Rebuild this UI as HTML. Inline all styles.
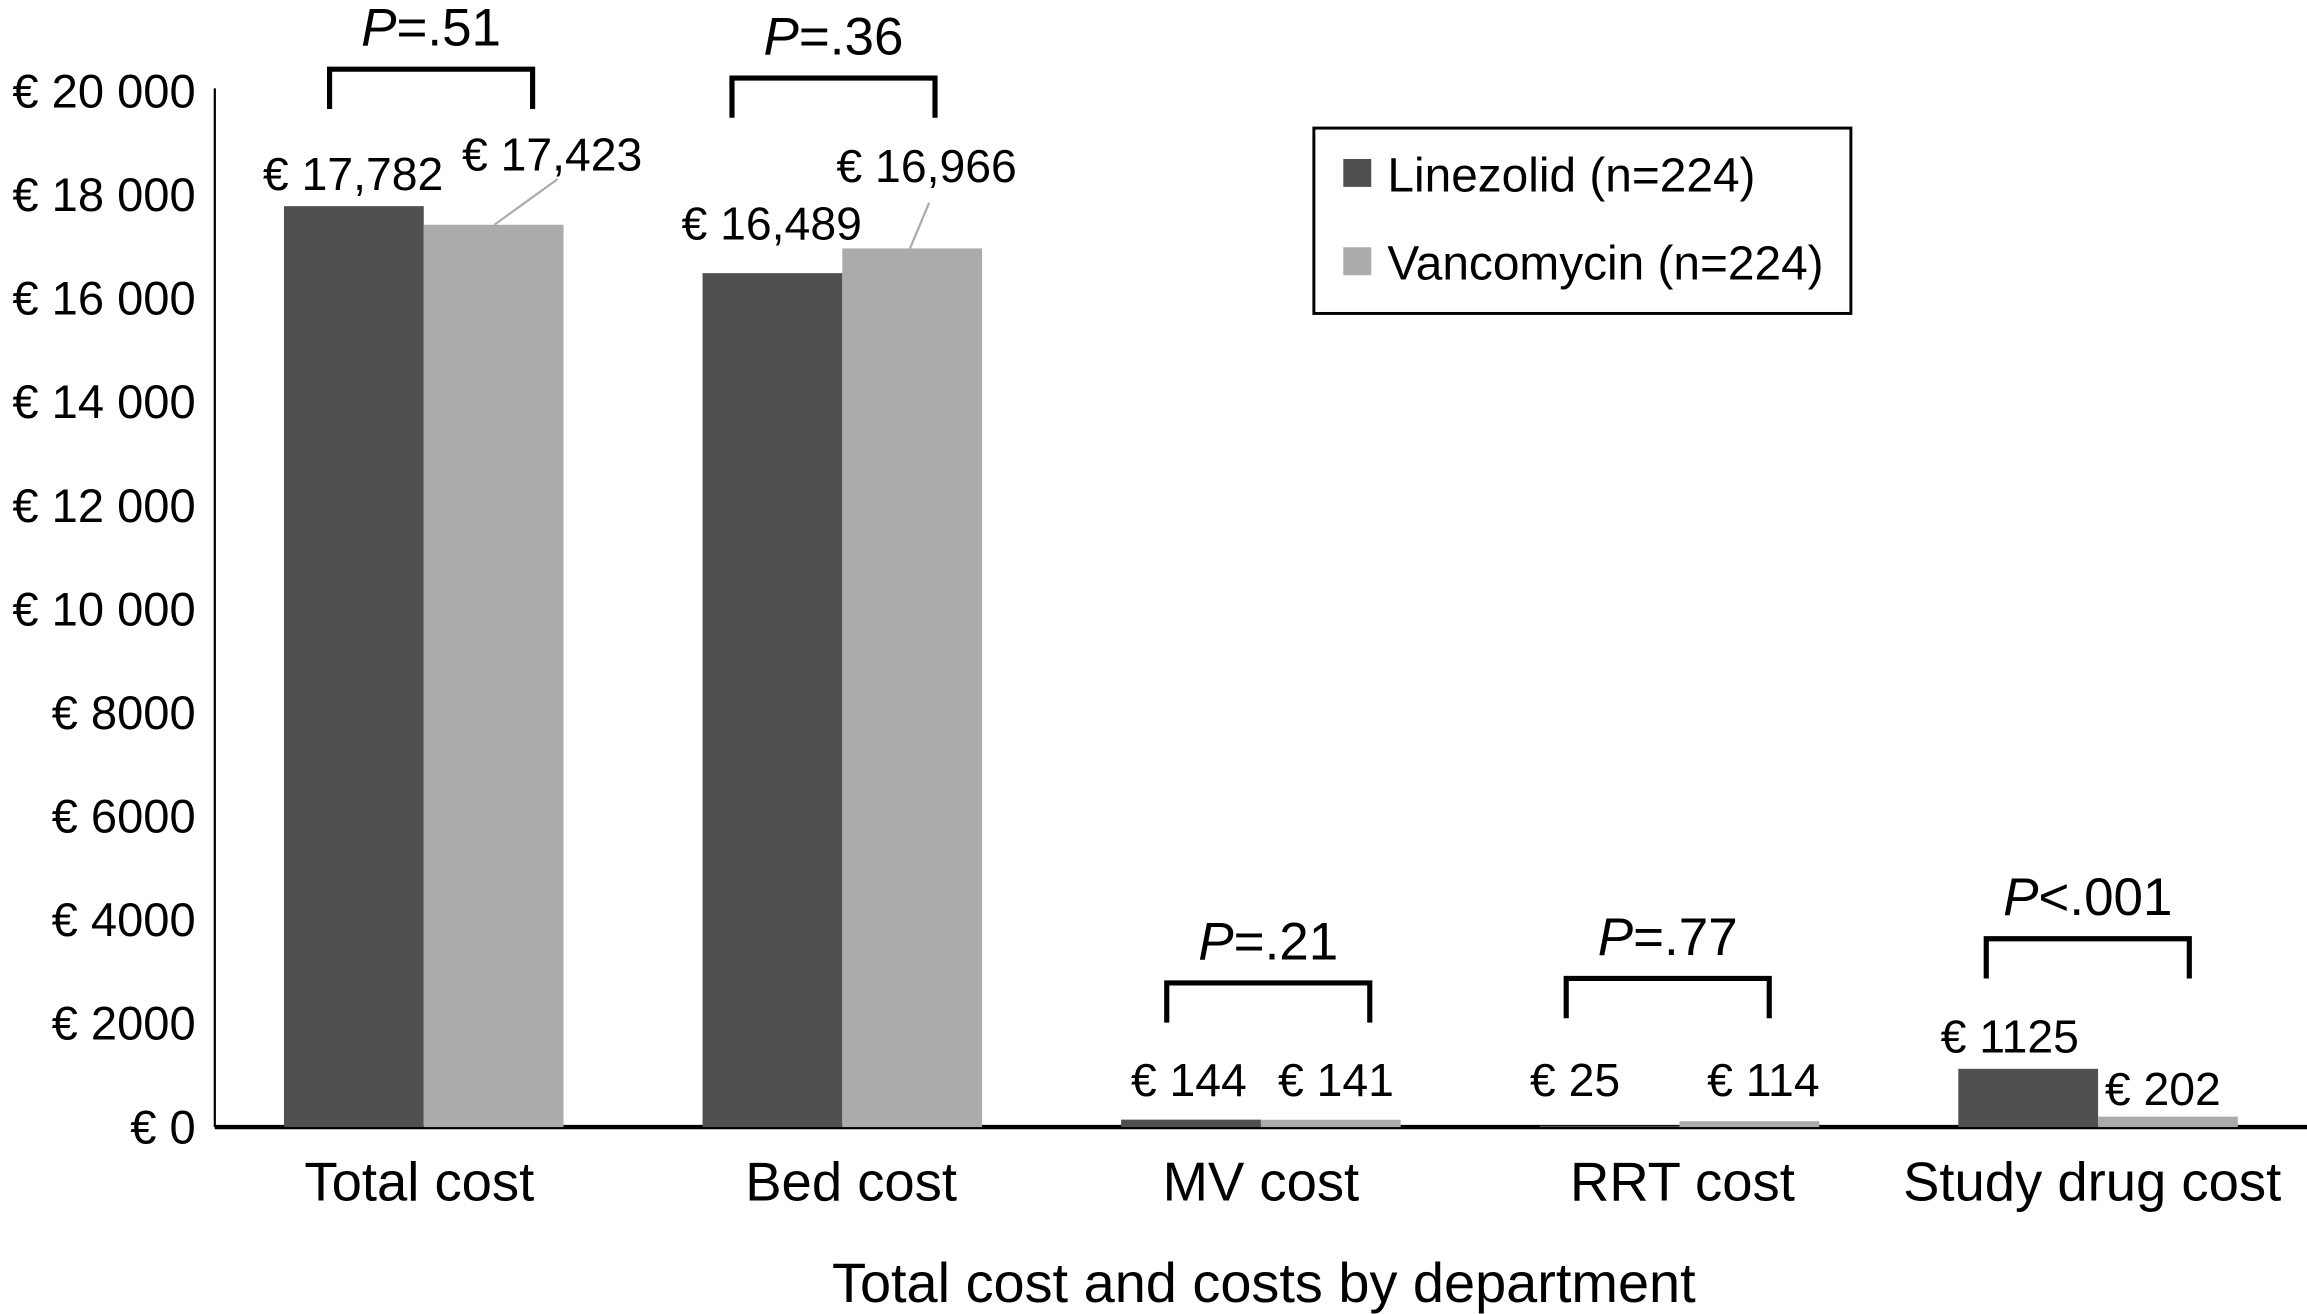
<!DOCTYPE html>
<html><head><meta charset="utf-8">
<style>
html,body{margin:0;padding:0;background:#fff;}
svg{display:block;}
text{font-family:"Liberation Sans",Arial,sans-serif;fill:#000;}
</style></head>
<body>
<svg id="chart" width="2307" height="1314" viewBox="0 0 1568 893" xmlns="http://www.w3.org/2000/svg">
<g id="axes"></g>
<g id="bars"></g>
<g id="labels"></g>
<g id="brackets"></g>
<g id="legend">
  <rect x="893" y="87" width="365" height="126" fill="#fff" stroke="#000" stroke-width="2"/>
  <rect x="913" y="108" width="19" height="19" fill="#505050"/>
  <text x="943" y="130" font-size="32.5">Linezolid (n=224)</text>
  <rect x="913" y="168" width="19" height="19" fill="#ababab"/>
  <text x="943" y="190" font-size="32.5">Vancomycin (n=224)</text>
</g>
</svg>
<script>
const categories = ["Total cost","Bed cost","MV cost","RRT cost","Study drug cost"];
const linezolid = [17782,16489,144,25,1125];
const vancomycin = [17423,16966,141,114,202];
const linezolidLabels = ["€ 17,782","€ 16,489","€ 144","€ 25","€ 1125"];
const vancomycinLabels = ["€ 17,423","€ 16,966","€ 141","€ 114","€ 202"];
const pValues = [".51",".36",".21",".77",".001"];
const pOps = ["=","=","=","=","<"];
const ticks = [0,2000,4000,6000,8000,10000,12000,14000,16000,18000,20000];
const tickLabels = ["€ 0","€ 2000","€ 4000","€ 6000","€ 8000","€ 10 000","€ 12 000","€ 14 000","€ 16 000","€ 18 000","€ 20 000"];

const NS="http://www.w3.org/2000/svg";
const y0=766, pxPer=0.0352;
function y(v){return y0 - v*pxPer;}
function gx(i){return 288 + i*284.5;}
const bw=95;
function mk(tag,attrs,parent,txt){const e=document.createElementNS(NS,tag);for(const k in attrs)e.setAttribute(k,attrs[k]);if(txt!==undefined)e.textContent=txt;parent.appendChild(e);return e;}

const axes=document.getElementById('axes');
let e=mk('line',{x1:146,y1:60,x2:146,y2:y0,stroke:'#000','stroke-width':1.5},axes);


ticks.forEach((t,i)=>{
  const tx=mk('text',{x:133,y:y(t)+11,'font-size':32,'text-anchor':'end'},axes,tickLabels[i]);
  
  
});

const bars=document.getElementById('bars');
const labels=document.getElementById('labels');
const catShift=[-3,6,0,2,-4];
categories.forEach((c,i)=>{
  const cx=gx(i);
  const b1=mk('rect',{x:cx-bw,y:y(linezolid[i]),width:bw,height:y0-y(linezolid[i]),fill:'#505050'},bars);
  
  
  const b2=mk('rect',{x:cx,y:y(vancomycin[i]),width:bw,height:y0-y(vancomycin[i]),fill:'#ababab'},bars);
  
  
  const cl=mk('text',{x:cx+catShift[i],y:816,'font-size':37,'text-anchor':'middle'},labels,c);
  
  
});
e=mk('line',{x1:146,y1:y0,x2:1568,y2:y0,stroke:'#000','stroke-width':3},axes);


e=mk('text',{x:859,y:885,'font-size':38,'text-anchor':'middle'},labels,'Total cost and costs by department');



function vl(x,yy,t,anchor){const el=mk('text',{x:x,y:yy,'font-size':31.5,'text-anchor':anchor||'middle'},labels,t);
  
  return el;}
// Total
vl(gx(0)-48,y(linezolid[0])-11,linezolidLabels[0]);
vl(gx(0)+26,y(vancomycin[0])-37,vancomycinLabels[0],'start');
mk('line',{x1:gx(0)+91,y1:y(vancomycin[0])-31,x2:gx(0)+48,y2:y(vancomycin[0]),stroke:'#ababab','stroke-width':1.5},labels);
// Bed
vl(gx(1)-48,y(linezolid[1])-23,linezolidLabels[1]);
vl(gx(1)-4,y(vancomycin[1])-45,vancomycinLabels[1],'start');
mk('line',{x1:gx(1)+59,y1:y(vancomycin[1])-31,x2:gx(1)+46,y2:y(vancomycin[1]),stroke:'#ababab','stroke-width':1.5},labels);
// MV
vl(gx(2)-49,745,linezolidLabels[2]);
vl(gx(2)+51,745,vancomycinLabels[2]);
// RRT
vl(gx(3)-71,745,linezolidLabels[3]);
vl(gx(3)+57,745,vancomycinLabels[3]);
// Study
vl(gx(4)-60,y(linezolid[4])-11,linezolidLabels[4]);
vl(gx(4)+44,751,vancomycinLabels[4]);

const brackets=document.getElementById('brackets');
const bTop=[47,53,668,665,638];
const bShift=[5,-6,5,-8,-7];
categories.forEach((c,i)=>{
  const cx=gx(i)+bShift[i], l=cx-69, r=cx+69, t=bTop[i], b=t+27;
  const p=mk('path',{d:`M${l} ${b} L${l} ${t} L${r} ${t} L${r} ${b}`,fill:'none',stroke:'#000','stroke-width':3.5},brackets);
  
  
  const tx=mk('text',{x:cx,y:t-16,'font-size':36,'text-anchor':'middle'},brackets);
  
  
  mk('tspan',{'font-style':'italic'},tx,'P');
  mk('tspan',{},tx,pOps[i]+pValues[i]);
});
</script>
</body></html>
